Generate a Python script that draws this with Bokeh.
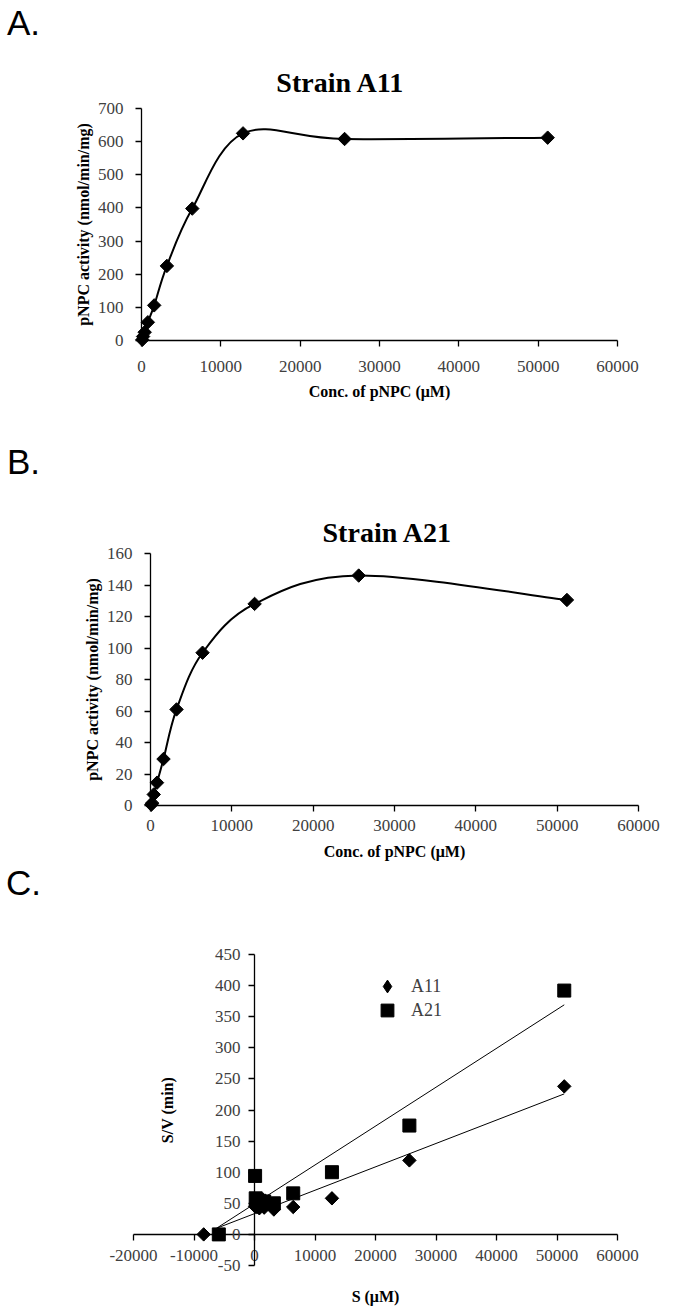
import numpy as np
from bokeh.plotting import figure
from bokeh.models import (Range1d, SingleIntervalTicker, Label, Legend, LegendItem,
                          LinearAxis, NumeralTickFormatter)
from bokeh.embed import file_html
from bokeh.resources import INLINE

# ---------------- data ----------------
conc = [100, 200, 400, 800, 1600, 3200, 6400, 12800, 25600, 51200]
a11_activity = [2, 12, 25, 55, 106, 225, 398, 625, 608, 612]
a21_activity = [0.5, 1.5, 7, 14.5, 29.5, 61, 97, 128, 146, 130.5]

s_a11 = [-8400, 100, 200, 400, 800, 1600, 3200, 6400, 12800, 25600, 51200]
sv_a11 = [0, 45, 47, 44, 42, 43, 40, 44, 58, 119, 238]
s_a21 = [-5900, 100, 200, 400, 800, 1600, 3200, 6400, 12800, 25600, 51200]
sv_a21 = [0, 94, 58, 56, 54, 53, 50, 66, 100, 175, 392]

trend_s = [-6300, 51200]
a11_fit = (0.00376, 33.4)   # slope, intercept of the A11 trend line
a21_fit = (0.00625, 49.1)   # slope, intercept of the A21 trend line

SERIF = "Liberation Serif"
SANS = "Liberation Sans"
TICK_COLOR = "#404040"

W, H = 689, 1314          # canvas size in page pixels (Bokeh page has no body margin)


def smooth_segments(x, y):
    """Bezier control points (Excel-like smoothing) through the data points."""
    x = np.asarray(x, float)
    y = np.asarray(y, float)
    n = len(x)
    d = dict(x0=[], y0=[], x1=[], y1=[], cx0=[], cy0=[], cx1=[], cy1=[])
    for i in range(n - 1):
        im = max(i - 1, 0)
        ip = min(i + 2, n - 1)
        d["x0"].append(x[i]); d["y0"].append(y[i])
        d["x1"].append(x[i + 1]); d["y1"].append(y[i + 1])
        d["cx0"].append(x[i] + (x[i + 1] - x[im]) / 6)
        d["cy0"].append(y[i] + (y[i + 1] - y[im]) / 6)
        d["cx1"].append(x[i + 1] - (x[ip] - x[i]) / 6)
        d["cy1"].append(y[i + 1] - (y[ip] - y[i]) / 6)
    return d


def xrange_px(v0, p0, v1, p1):
    """x range over the whole canvas so that value v0 sits at pixel p0 and v1 at p1."""
    k = (v1 - v0) / (p1 - p0)
    return Range1d(v0 + (0 - p0) * k, v0 + (W - p0) * k)


def yrange_px(v0, p0, v1, p1):
    k = (v1 - v0) / (p1 - p0)
    return Range1d(v0 + (H - p0) * k, v0 + (0 - p0) * k)


p = figure(width=W, height=H, x_range=Range1d(0, W), y_range=Range1d(H, 0),
           x_axis_type=None, y_axis_type=None,
           output_backend="svg", toolbar_location=None, min_border=0)
p.outline_line_color = None
p.grid.visible = False
p.background_fill_color = "white"
p.border_fill_color = "white"

p.extra_x_ranges = {
    "ax": xrange_px(0, 141, 60000, 617),
    "bx": xrange_px(0, 150, 60000, 638),
    "cx": xrange_px(-20000, 133, 60000, 617),
}
p.extra_y_ranges = {
    "ay": yrange_px(0, 340, 700, 108),
    "by": yrange_px(0, 805, 160, 553),
    "cy": yrange_px(-50, 1265, 450, 954),
}


def axis(side, xn, yn, bounds, interval, label, tick_standoff, label_standoff):
    ax = LinearAxis(x_range_name=xn, y_range_name=yn, fixed_location=0, bounds=bounds)
    ax.ticker = SingleIntervalTicker(interval=interval)
    ax.formatter = NumeralTickFormatter(format="0")
    ax.minor_tick_line_color = None
    ax.major_tick_in = 0
    ax.major_tick_out = 6
    ax.axis_line_color = "black"
    ax.axis_line_width = 1.3
    ax.major_tick_line_color = "black"
    ax.major_tick_line_width = 1.3
    ax.major_label_text_font = SERIF
    ax.major_label_text_font_size = "17px"
    ax.major_label_text_color = TICK_COLOR
    ax.major_label_standoff = tick_standoff
    ax.axis_label = label
    ax.axis_label_text_font = SERIF
    ax.axis_label_text_font_style = "bold"
    ax.axis_label_text_font_size = "16px"
    ax.axis_label_text_color = "black"
    ax.axis_label_standoff = label_standoff
    p.add_layout(ax, side)
    return ax


def text(x, y, s, font, size, bold=False):
    # x, y: centre of the text in page pixels (default ranges), y from the top
    p.add_layout(Label(x=x, y=y, text=s, text_font=font, text_font_size=size,
                       text_font_style="bold" if bold else "normal",
                       text_align="center", text_baseline="middle",
                       text_color="black"))


def curve(xn, yn, xs, ys):
    seg = smooth_segments(xs, ys)
    p.bezier(x0="x0", y0="y0", x1="x1", y1="y1", cx0="cx0", cy0="cy0", cx1="cx1", cy1="cy1",
             source=seg, line_color="black", line_width=2,
             x_range_name=xn, y_range_name=yn)
    p.scatter(xs, ys, marker="square", angle=np.pi / 4, size=9.5,
              fill_color="black", line_color="black", x_range_name=xn, y_range_name=yn)


# ---------------- Panel A ----------------
axis("below", "ax", "ay", (0, 60000), 10000, "Conc. of pNPC (μM)", 14, 8)
axis("left", "ax", "ay", (0, 700), 100, "pNPC activity (nmol/min/mg)", 12, 3)
curve("ax", "ay", conc, a11_activity)
text(340, 82, "Strain A11", SERIF, "28px", bold=True)
text(23, 22, "A.", SANS, "35px")

# ---------------- Panel B ----------------
axis("below", "bx", "by", (0, 60000), 10000, "Conc. of pNPC (μM)", 8, 9)
axis("left", "bx", "by", (0, 160), 20, "pNPC activity (nmol/min/mg)", 12, 3)
curve("bx", "by", conc, a21_activity)
text(387, 532, "Strain A21", SERIF, "28px", bold=True)
text(23, 461, "B.", SANS, "35px")

# ---------------- Panel C ----------------
axis("below", "cx", "cy", (-20000, 60000), 10000, "S (μM)", 10, 23)
axis("left", "cx", "cy", (-50, 450), 50, "S/V (min)", 8, 36)

t_a11 = [a11_fit[0] * s + a11_fit[1] for s in trend_s]
t_a21 = [a21_fit[0] * s + a21_fit[1] for s in trend_s]
p.line(trend_s, t_a11, line_color="black", line_width=1, x_range_name="cx", y_range_name="cy")
p.line(trend_s, t_a21, line_color="black", line_width=1, x_range_name="cx", y_range_name="cy")
# diamond glyph under the A11 points: fully covered, it gives the legend its diamond key
k11 = p.scatter(s_a11, sv_a11, marker="diamond", size=12, fill_color="black",
                line_color="black", x_range_name="cx", y_range_name="cy")
p.scatter(s_a11, sv_a11, marker="square", angle=np.pi / 4, size=9.5,
          fill_color="black", line_color="black", x_range_name="cx", y_range_name="cy")
r21 = p.scatter(s_a21, sv_a21, marker="square", size=13,
                fill_color="black", line_color="black", x_range_name="cx", y_range_name="cy")

for r, name, box, loc, so in ((k11, "A11", 32, (371, 312), 8), (r21, "A21", 32, (371, 288), 8)):
    lg = Legend(items=[LegendItem(label=name, renderers=[r])], location=loc,
                border_line_color=None, background_fill_alpha=0, padding=0, margin=0,
                glyph_width=box, glyph_height=box, label_standoff=so,
                label_text_font=SERIF, label_text_font_size="18px",
                label_text_color=TICK_COLOR)
    p.add_layout(lg)
text(23, 882, "C.", SANS, "35px")

open("out.html", "w").write(file_html(p, INLINE))
